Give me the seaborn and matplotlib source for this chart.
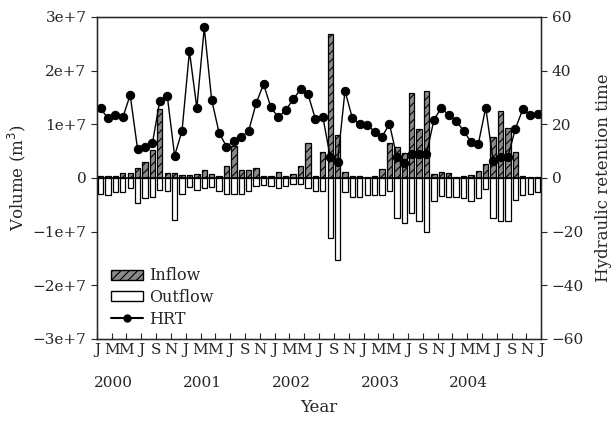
import numpy as np
import pandas as pd
import matplotlib
matplotlib.use("Agg")
import matplotlib.pyplot as plt
import seaborn as sns
from matplotlib.lines import Line2D
from matplotlib.patches import Patch

# Monthly series, Jan 2000 - Dec 2004
inflow = [0.3, 0.3, 0.4, 1.0, 1.0, 1.9, 2.9, 5.2, 12.9, 0.9, 0.9, 0.5,
          0.6, 0.7, 1.5, 0.7, 0.4, 2.3, 6.0, 1.4, 1.4, 1.9, 0.4, 0.4,
          1.2, 0.4, 0.7, 2.3, 6.6, 0.4, 4.9, 26.8, 8.0, 1.1, 0.3, 0.4,
          0.25, 0.3, 1.7, 6.6, 5.7, 4.7, 15.8, 9.1, 16.3, 0.7, 1.2, 0.9,
          0.1, 0.4, 0.6, 1.3, 2.6, 7.7, 12.5, 9.4, 4.9, 0.4, 0.1, 0.1]  # 1e6 m3
outflow = [2.9, 3.2, 2.7, 2.7, 1.9, 4.6, 3.8, 3.5, 2.2, 2.5, 7.8, 2.9,
           1.6, 2.2, 1.9, 1.6, 2.5, 3.0, 3.0, 3.0, 2.4, 1.5, 1.3, 1.5,
           1.8, 1.5, 1.2, 1.2, 1.8, 2.5, 2.5, 11.2, 15.2, 2.7, 3.5, 3.6,
           3.2, 3.2, 3.2, 2.5, 7.5, 8.4, 6.5, 8.0, 10.1, 4.3, 3.4, 3.5,
           3.5, 3.7, 4.2, 3.8, 2.0, 7.5, 8.1, 8.1, 4.1, 3.2, 2.9, 2.7]  # 1e6 m3
hrt = [26.0, 22.2, 23.5, 22.6, 30.9, 10.7, 11.7, 12.9, 28.8, 30.7, 8.3, 17.6,
       47.2, 26.1, 56.1, 29.1, 16.9, 11.7, 13.8, 15.2, 17.6, 27.8, 35.0, 26.3,
       22.6, 25.3, 29.3, 33.0, 31.3, 22.0, 22.9, 8.0, 6.1, 32.5, 22.2, 20.1,
       19.8, 17.3, 15.4, 20.1, 8.0, 5.7, 8.9, 8.9, 8.9, 21.6, 26.2, 23.4,
       21.4, 17.6, 13.5, 12.7, 26.2, 6.5, 8.0, 8.0, 18.3, 25.6, 23.6, 23.9]

month_labels = ["J", "M", "M", "J", "S", "N"]
years = ["2000", "2001", "2002", "2003", "2004"]
vol_ticks = [-3e7, -2e7, -1e7, 0, 1e7, 2e7, 3e7]
vol_tick_labels = ["\u22123e+7", "\u22122e+7", "\u22121e+7", "0", "1e+7", "2e+7", "3e+7"]
hrt_ticks = [-60, -40, -20, 0, 20, 40, 60]
hrt_tick_labels = ["\u221260", "\u221240", "\u221220", "0", "20", "40", "60"]

n = len(inflow)
df = pd.DataFrame({
    "month": np.arange(n),
    "inflow": np.array(inflow) * 1e6,
    "outflow": -np.array(outflow) * 1e6,
    "hrt": hrt,
})

sns.set_style("ticks")
plt.rcParams["font.family"] = ["DejaVu Serif"]
plt.rcParams["hatch.linewidth"] = 0.8

fig = plt.figure(figsize=(6.13, 4.25), dpi=100)
ax = fig.add_axes([0.158, 0.2024, 0.725, 0.7576])

bar_w = 0.72
sns.barplot(data=df, x="month", y="inflow", ax=ax, width=bar_w,
            color="#888888", edgecolor="black", linewidth=0.9,
            saturation=1, errorbar=None)
n_in = len(ax.patches)
sns.barplot(data=df, x="month", y="outflow", ax=ax, width=bar_w,
            color="white", edgecolor="black", linewidth=0.9,
            saturation=1, errorbar=None)
for p in ax.patches[:n_in]:
    p.set_hatch("////")
    p.set_facecolor("#8a8a8a")

ax.axhline(0, color="black", lw=1.2, zorder=3)
ax.set_ylim(-3e7, 3e7)
ax.set_xlim(-0.5, n - 0.5)
ax.set_yticks(vol_ticks)
ax.set_yticklabels(vol_tick_labels, fontsize=11)

tick_pos = np.arange(0, n + 1, 2) - 0.5
tick_lab = [month_labels[k % 6] for k in range(len(tick_pos))]
ax.set_xticks(tick_pos)
ax.set_xticklabels(tick_lab, fontsize=11)
ax.tick_params(axis="x", direction="in", length=4, pad=3)
ax.tick_params(axis="y", direction="out", length=4)
for k, yr in enumerate(years):
    ax.text(12 * k - 0.9, -0.137, yr, transform=ax.get_xaxis_transform(),
            ha="left", va="center", fontsize=11)
ax.set_xlabel("Year", fontsize=12, labelpad=30)
ax.set_ylabel("Volume (m$^3$)", fontsize=12, labelpad=3)
for s in ax.spines.values():
    s.set_linewidth(1.0)
    s.set_color("black")

ax2 = ax.twinx()
sns.lineplot(data=df, x="month", y="hrt", ax=ax2, color="black", lw=1.0,
             marker="o", markersize=6, markeredgecolor="black")
ax2.set_ylim(-60, 60)
ax2.set_yticks(hrt_ticks)
ax2.set_yticklabels(hrt_tick_labels, fontsize=11)
ax2.tick_params(axis="y", direction="out", length=4)
ax2.set_ylabel("Hydraulic retention time", fontsize=12, labelpad=8)
ax2.set_xlim(-0.5, n - 0.5)

handles = [
    Patch(facecolor="#8a8a8a", edgecolor="black", hatch="////", label="Inflow"),
    Patch(facecolor="white", edgecolor="black", label="Outflow"),
    Line2D([0], [0], color="black", marker="o", markersize=5, label="HRT"),
]
ax2.legend(handles=handles, loc="lower left", bbox_to_anchor=(0.0, -0.01),
           frameon=False, fontsize=11.5, labelspacing=0.3, handlelength=2.0,
           handletextpad=0.4, handleheight=0.6)

fig.savefig("out.png", dpi=100)
